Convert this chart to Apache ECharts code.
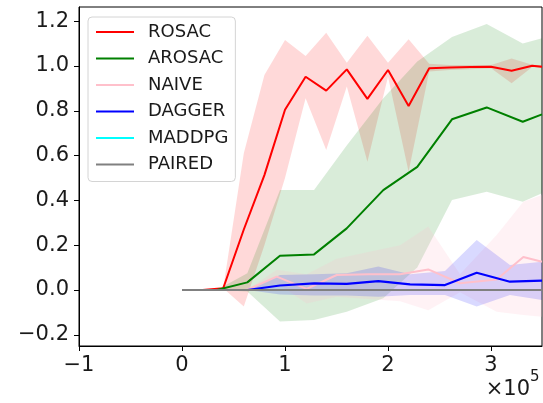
<!DOCTYPE html>
<html><head><meta charset="utf-8">
<script src="https://cdn.jsdelivr.net/npm/echarts@6/dist/echarts.min.js"></script>
<style>html,body{margin:0;padding:0;background:#fff}#c{width:543px;height:403px}</style>
</head><body><div id="c"></div>
<script>
// x values in units of 1e5 steps
const xTicks = [-1, 0, 1, 2, 3];
const yTicks = [-0.2, 0, 0.2, 0.4, 0.6, 0.8, 1.0, 1.2];

const rosacX    = [0, 0.2, 0.4, 0.6, 0.8, 1.0, 1.2, 1.4, 1.6, 1.8, 2.0, 2.2, 2.4, 2.6, 2.8, 3.0, 3.2, 3.4, 3.495];
const rosacMean = [0, 0, 0.008, 0.27, 0.513, 0.805, 0.952, 0.89, 0.985, 0.853, 0.982, 0.821, 0.99, 0.993, 0.995, 0.997, 0.979, 1.001, 0.997];
const rosacHi   = [0, 0, 0.008, 0.61, 0.96, 1.116, 1.045, 1.148, 1.015, 1.135, 1.015, 1.119, 1.01, 1.005, 1.005, 1.004, 1.034, 1.006, 1.003];
const rosacLo   = [0, 0, 0.008, -0.074, 0.2, 0.5, 0.856, 0.625, 0.908, 0.573, 0.952, 0.528, 0.975, 0.982, 0.985, 0.99, 0.923, 0.995, 0.99];

const arosacX    = [0, 0.337, 0.634, 0.951, 1.282, 1.599, 1.954, 2.284, 2.621, 2.958, 3.308, 3.495];
const arosacMean = [0, 0, 0.034, 0.153, 0.159, 0.275, 0.446, 0.55, 0.762, 0.815, 0.751, 0.784];
const arosacHi   = [0, 0, 0.075, 0.446, 0.446, 0.645, 0.856, 1.02, 1.13, 1.188, 1.10, 1.124];
const arosacLo   = [0, 0, -0.007, -0.141, -0.134, -0.097, -0.037, 0.1, 0.402, 0.439, 0.394, 0.432];

const naiveX    = [0, 0.628, 0.92, 1.21, 1.502, 1.809, 2.117, 2.391, 2.699, 3.055, 3.314, 3.495];
const naiveMean = [0, 0, 0.06, 0.005, 0.067, 0.07, 0.07, 0.092, 0.03, 0.047, 0.147, 0.126];
const naiveHi   = [0, 0, 0.09, 0.07, 0.14, 0.17, 0.2, 0.283, 0.07, 0.245, 0.394, 0.424];
const naiveLo   = [0, 0, 0.03, -0.06, -0.03, -0.04, -0.05, -0.09, -0.01, -0.097, -0.112, -0.119];

const daggerX    = [0, 0.634, 0.951, 1.282, 1.599, 1.906, 2.214, 2.553, 2.861, 3.184, 3.495];
const daggerMean = [0, 0, 0.02, 0.03, 0.027, 0.04, 0.025, 0.022, 0.077, 0.037, 0.042];
const daggerHi   = [0, 0, 0.067, 0.07, 0.075, 0.105, 0.07, 0.085, 0.223, 0.112, 0.126];
const daggerLo   = [0, 0, -0.02, -0.025, -0.025, -0.03, -0.022, -0.022, -0.074, -0.022, -0.045];

const maddpgX    = [0, 3.495];
const maddpgMean = [0, 0];
const pairedX    = [0, 3.495];
const pairedMean = [0, 0];

const FONT = 'DejaVu Sans';
const minus = s => String(s).replace('-', '\u2212');

function zip2(x, y) { return x.map((v, i) => [v, y[i]]); }
function zip3(x, a, b) { return x.map((v, i) => [v, a[i], b[i]]); }

function lineSeries(name, x, y, color, width) {
  return {
    name, type: 'line', data: zip2(x, y), symbol: 'none', z: 3,
    lineStyle: { color, width }, itemStyle: { color }, animation: false, silent: true
  };
}
function bandSeries(name, x, lo, hi, color, opacity) {
  return {
    name, type: 'custom', data: zip3(x, lo, hi), z: 1, silent: true, animation: false,
    encode: { x: 0, y: [1, 2] },
    renderItem: function (params, api) {
      if (params.dataIndexInside !== 0) return null;
      const n = params.dataInsideLength;
      const top = [], bot = [];
      for (let i = 0; i < n; i++) {
        const xv = api.value(0, i);
        bot.push(api.coord([xv, api.value(1, i)]));
        top.push(api.coord([xv, api.value(2, i)]));
      }
      const pts = bot.concat(top.reverse());
      return { type: 'polygon', shape: { points: pts }, style: { fill: color, opacity: opacity, stroke: null } };
    }
  };
}

const chart = echarts.init(document.getElementById('c'), null, { renderer: 'canvas' });
chart.setOption({
  animation: false,
  backgroundColor: '#fff',
  grid: { left: 79, top: 7, width: 463, height: 339, show: true, borderColor: '#000', borderWidth: 1, backgroundColor: 'transparent' },
  xAxis: {
    type: 'value', min: -1, max: 3.495,
    axisLine: { show: true, onZero: false, lineStyle: { color: '#000', width: 1 } },
    axisTick: { show: true, length: 5, customValues: xTicks, lineStyle: { color: '#000' } },
    axisLabel: { customValues: xTicks, margin: 9, fontSize: 21, fontFamily: FONT, color: '#1a1a1a', formatter: v => minus(v) },
    splitLine: { show: false }
  },
  yAxis: {
    type: 'value', min: -0.25, max: 1.2634,
    axisLine: { show: true, onZero: false, lineStyle: { color: '#000', width: 1 } },
    axisTick: { show: true, length: 5, customValues: yTicks, lineStyle: { color: '#000' } },
    axisLabel: { customValues: yTicks, margin: 10, fontSize: 21, fontFamily: FONT, color: '#1a1a1a', formatter: v => minus(Number(v).toFixed(1)) },
    splitLine: { show: false }
  },
  legend: {
    orient: 'vertical', left: 88, top: 17, padding: [5, 7, 7, 7],
    itemWidth: 38, itemHeight: 14, itemGap: 6.5,
    backgroundColor: 'rgba(255,255,255,0.85)', borderColor: '#d4d4d4', borderWidth: 1, borderRadius: 4,
    itemStyle: { opacity: 0, borderWidth: 0 },
    lineStyle: { width: 2 },
    textStyle: { fontSize: 18, fontFamily: FONT, color: '#1a1a1a', lineHeight: 20, padding: [0, 0, 0, 9] },
    data: ['ROSAC', 'AROSAC', 'NAIVE', 'DAGGER', 'MADDPG', 'PAIRED'],
    selectedMode: false
  },
  graphic: [
    { type: 'text', x: 530, y: 390, style: { text: '\u00d710', font: '21px "DejaVu Sans"', fill: '#1a1a1a', align: 'right', verticalAlign: 'middle' } },
    { type: 'text', x: 530, y: 377, style: { text: '5', font: '15px "DejaVu Sans"', fill: '#1a1a1a', align: 'left', verticalAlign: 'middle' } }
  ],
  series: [
    bandSeries('ROSAC band', rosacX, rosacLo, rosacHi, '#ff0000', 0.15),
    bandSeries('AROSAC band', arosacX, arosacLo, arosacHi, '#008000', 0.15),
    bandSeries('NAIVE band', naiveX, naiveLo, naiveHi, '#ffc0cb', 0.2),
    bandSeries('DAGGER band', daggerX, daggerLo, daggerHi, '#0000ff', 0.15),
    lineSeries('ROSAC', rosacX, rosacMean, '#ff0000', 2),
    lineSeries('AROSAC', arosacX, arosacMean, '#008000', 2),
    lineSeries('NAIVE', naiveX, naiveMean, '#ffc0cb', 2),
    lineSeries('DAGGER', daggerX, daggerMean, '#0000ff', 2.2),
    lineSeries('MADDPG', maddpgX, maddpgMean, '#00ffff', 2),
    lineSeries('PAIRED', pairedX, pairedMean, '#808080', 2)
  ]
});
</script></body></html>
